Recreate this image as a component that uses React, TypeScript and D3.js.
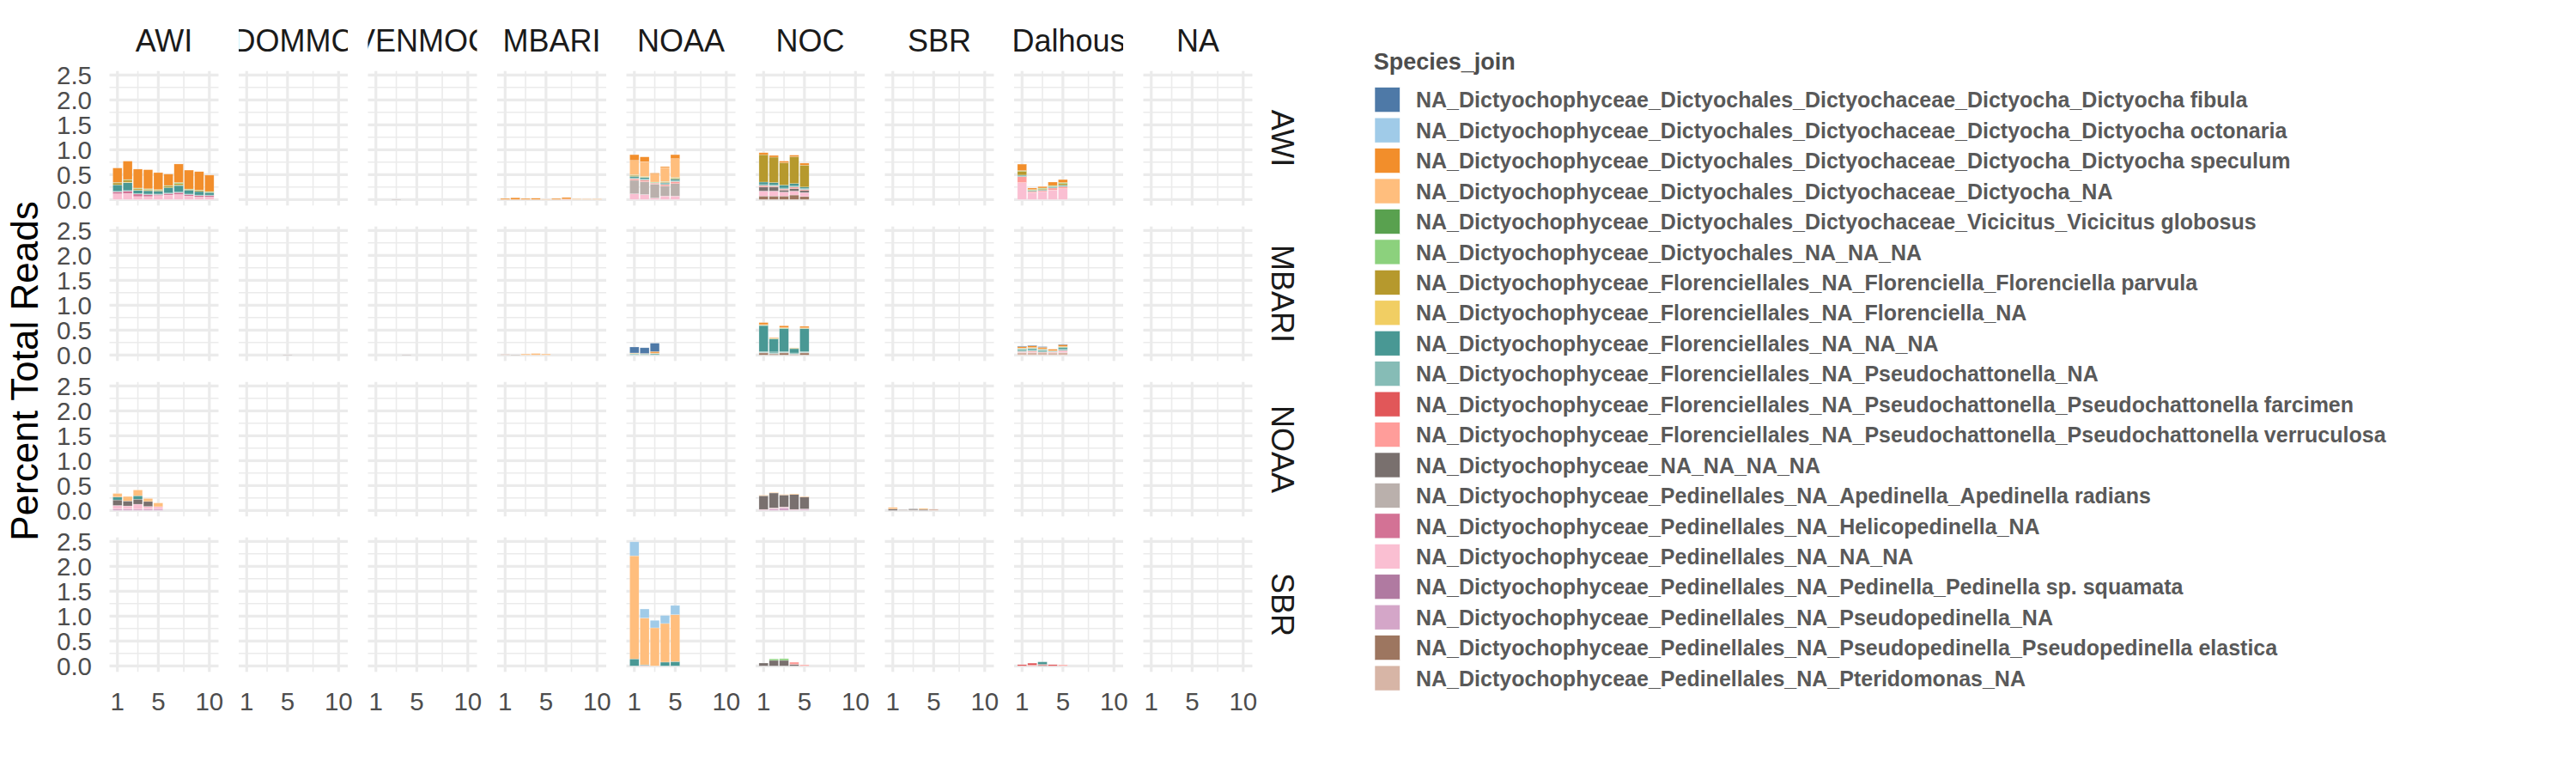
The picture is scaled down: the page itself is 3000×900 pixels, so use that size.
import React from 'react';
import * as d3 from 'd3';

// legend order (1-based index used in the bar arrays below)
const speciesNames = [
  'NA_Dictyochophyceae_Dictyochales_Dictyochaceae_Dictyocha_Dictyocha fibula',
  'NA_Dictyochophyceae_Dictyochales_Dictyochaceae_Dictyocha_Dictyocha octonaria',
  'NA_Dictyochophyceae_Dictyochales_Dictyochaceae_Dictyocha_Dictyocha speculum',
  'NA_Dictyochophyceae_Dictyochales_Dictyochaceae_Dictyocha_NA',
  'NA_Dictyochophyceae_Dictyochales_Dictyochaceae_Vicicitus_Vicicitus globosus',
  'NA_Dictyochophyceae_Dictyochales_NA_NA_NA',
  'NA_Dictyochophyceae_Florenciellales_NA_Florenciella_Florenciella parvula',
  'NA_Dictyochophyceae_Florenciellales_NA_Florenciella_NA',
  'NA_Dictyochophyceae_Florenciellales_NA_NA_NA',
  'NA_Dictyochophyceae_Florenciellales_NA_Pseudochattonella_NA',
  'NA_Dictyochophyceae_Florenciellales_NA_Pseudochattonella_Pseudochattonella farcimen',
  'NA_Dictyochophyceae_Florenciellales_NA_Pseudochattonella_Pseudochattonella verruculosa',
  'NA_Dictyochophyceae_NA_NA_NA_NA',
  'NA_Dictyochophyceae_Pedinellales_NA_Apedinella_Apedinella radians',
  'NA_Dictyochophyceae_Pedinellales_NA_Helicopedinella_NA',
  'NA_Dictyochophyceae_Pedinellales_NA_NA_NA',
  'NA_Dictyochophyceae_Pedinellales_NA_Pedinella_Pedinella sp. squamata',
  'NA_Dictyochophyceae_Pedinellales_NA_Pseudopedinella_NA',
  'NA_Dictyochophyceae_Pedinellales_NA_Pseudopedinella_Pseudopedinella elastica',
  'NA_Dictyochophyceae_Pedinellales_NA_Pteridomonas_NA',
];

const speciesColors = [
  '#4E79A7', '#A0CBE8', '#F28E2B', '#FFBE7D', '#59A14F',
  '#8CD17D', '#B6992D', '#F1CE63', '#499894', '#86BCB6',
  '#E15759', '#FF9D9A', '#79706E', '#BAB0AC', '#D37295',
  '#FABFD2', '#B07AA1', '#D4A6C8', '#9D7660', '#D7B5A6',
];

const colSites = ['AWI', 'DOMMC', 'VENMOC', 'MBARI', 'NOAA', 'NOC', 'SBR', 'Dalhous', 'NA'];
const rowSites = ['AWI', 'MBARI', 'NOAA', 'SBR'];

const xTicks = [1, 5, 10];
const xMinor = [3, 7.5];
const yTicks = [0, 0.5, 1, 1.5, 2, 2.5];
const yMinor = [0.25, 0.75, 1.25, 1.75, 2.25];

type Seg = [number, number]; // [species, percent]

// ---- row AWI ----
const awiAWI: Seg[][] = [
  [[16, .115], [15, .04], [9, .13], [10, .01], [6, .007], [7, .04], [3, .29]],
  [[16, .12], [15, .05], [9, .16], [10, .01], [6, .01], [7, .04], [8, .01], [3, .37]],
  [[16, .06], [15, .05], [9, .07], [10, .01], [6, .01], [7, .025], [8, .005], [3, .38]],
  [[16, .06], [15, .04], [9, .07], [10, .01], [6, .01], [7, .02], [8, .005], [3, .383]],
  [[16, .08], [15, .02], [9, .06], [10, .01], [6, .01], [7, .02], [3, .34]],
  [[16, .09], [15, .03], [9, .11], [10, .01], [6, .01], [7, .03], [3, .23]],
  [[16, .10], [15, .04], [9, .13], [10, .01], [6, .02], [7, .03], [8, .01], [3, .373]],
  [[16, .07], [15, .03], [9, .08], [10, .01], [6, .01], [7, .01], [3, .38]],
  [[16, .05], [15, .03], [9, .07], [10, .01], [6, .01], [7, .02], [3, .37]],
  [[16, .05], [15, .03], [9, .05], [10, .01], [6, .01], [7, .01], [3, .33]],
];
const awiVENMOC: Seg[][] = [[], [], [[14, .006]]];
const awiMBARI: Seg[][] = [
  [[3, .02]], [[3, .035]], [[3, .02]], [[3, .025]], [[4, .008]],
  [[3, .02]], [[12, .01], [3, .03]], [[4, .015]], [[4, .012]], [[4, .012]],
];
const awiNOAA: Seg[][] = [
  [[16, .115], [14, .27], [12, .03], [9, .03], [10, .02], [6, .01], [7, .02], [4, .29], [3, .115]],
  [[16, .10], [14, .26], [12, .03], [9, .03], [10, .02], [6, .01], [7, .01], [4, .30], [3, .095]],
  [[16, .03], [14, .28], [12, .02], [10, .01], [6, .01], [4, .16], [3, .02]],
  [[16, .07], [14, .20], [12, .03], [9, .02], [10, .02], [6, .01], [7, .01], [4, .28], [3, .02]],
  [[16, .07], [14, .25], [12, .04], [9, .03], [10, .02], [6, .01], [7, .02], [4, .38], [3, .08]],
];
const awiNOC: Seg[][] = [
  [[19, .07], [16, .10], [13, .08], [12, .03], [9, .05], [10, .02], [7, .55], [3, .04]],
  [[19, .07], [16, .10], [13, .08], [12, .02], [9, .05], [10, .02], [7, .51], [3, .035]],
  [[19, .07], [16, .08], [13, .04], [12, .02], [9, .06], [10, .02], [7, .45], [3, .03]],
  [[19, .09], [16, .08], [13, .05], [12, .03], [9, .05], [10, .02], [7, .54], [3, .03]],
  [[19, .06], [16, .08], [13, .04], [12, .02], [9, .03], [10, .02], [7, .44], [3, .04]],
];
const awiDalhous: Seg[][] = [
  [[16, .34], [12, .12], [10, .03], [6, .01], [7, .08], [3, .13]],
  [[16, .14], [12, .02], [10, .02], [6, .01], [7, .01], [3, .03]],
  [[16, .16], [12, .02], [10, .02], [6, .01], [7, .02], [3, .03]],
  [[16, .19], [12, .04], [10, .03], [6, .01], [7, .01], [3, .07]],
  [[16, .22], [12, .04], [10, .03], [6, .02], [7, .03], [3, .06]],
];

// ---- row MBARI ----
const mbariDOMMC: Seg[][] = [[], [], [], [], [[14, .006]]];
const mbariVENMOC: Seg[][] = [[], [], [], [[14, .006]]];
const mbariMBARI: Seg[][] = [
  [[20, .012]], [[14, .005]], [[4, .02]], [[4, .03]], [[4, .02]],
];
const mbariNOAA: Seg[][] = [
  [[10, .02], [6, .01], [4, .01], [1, .12]],
  [[10, .02], [4, .01], [1, .115]],
  [[10, .03], [4, .01], [3, .03], [1, .166]],
];
const mbariNOC: Seg[][] = [
  [[19, .04], [14, .01], [10, .02], [9, .52], [6, .01], [4, .01], [3, .04]],
  [[19, .02], [14, .01], [10, .03], [9, .26], [6, .01], [4, .01], [3, .01]],
  [[19, .04], [14, .01], [10, .02], [9, .46], [6, .01], [4, .01], [3, .036]],
  [[19, .01], [14, .01], [10, .02], [9, .09], [6, .004], [4, .01]],
  [[19, .04], [14, .01], [10, .02], [9, .46], [6, .01], [4, .005], [3, .03]],
];
const mbariDalhous: Seg[][] = [
  [[20, .05], [16, .01], [12, .01], [10, .03], [9, .02], [6, .01], [4, .01], [3, .03], [1, .008]],
  [[20, .05], [16, .01], [12, .02], [10, .03], [9, .02], [6, .01], [4, .01], [3, .035], [1, .01]],
  [[20, .045], [12, .01], [10, .03], [9, .02], [6, .01], [4, .01], [3, .03], [1, .012]],
  [[20, .04], [16, .01], [12, .01], [10, .01], [9, .01], [4, .01], [3, .025]],
  [[20, .05], [16, .03], [12, .01], [10, .03], [9, .03], [6, .01], [4, .01], [3, .04], [1, .003]],
];

// ---- row NOAA ----
const noaaAWI: Seg[][] = [
  [[18, .03], [16, .07], [13, .11], [9, .06], [4, .07]],
  [[18, .03], [16, .06], [13, .10], [4, .09]],
  [[18, .025], [16, .10], [13, .10], [9, .07], [4, .115]],
  [[18, .03], [16, .05], [13, .10], [4, .06]],
  [[18, .025], [16, .05], [4, .075]],
];
const noaaNOC: Seg[][] = [
  [[18, .01], [16, .01], [13, .275], [4, .01]],
  [[18, .03], [16, .02], [13, .30], [4, .01]],
  [[18, .05], [16, .02], [13, .24], [4, .01]],
  [[18, .01], [16, .01], [13, .30], [4, .013]],
  [[18, .02], [16, .01], [13, .24], [4, .01]],
];
const noaaSBR: Seg[][] = [
  [[13, .03], [4, .03]],
  [[14, .015]],
  [[14, .01], [13, .02]],
  [[13, .02], [4, .02]],
  [[20, .025]],
];

// ---- row SBR ----
const sbrNOAA: Seg[][] = [
  [[9, .14], [4, 2.07], [2, .28]],
  [[12, .012], [9, .01], [4, .94], [2, .18]],
  [[4, .764], [2, .15]],
  [[9, .075], [4, .776], [2, .16]],
  [[9, .086], [4, .943], [2, .184]],
];
const sbrNOC: Seg[][] = [
  [[13, .057]],
  [[13, .11], [6, .03]],
  [[13, .11], [6, .035]],
  [[13, .03], [12, .045]],
  [[12, .02]],
];
const sbrDalhous: Seg[][] = [
  [[11, .025]],
  [[12, .015], [11, .04]],
  [[13, .01], [11, .02], [9, .05]],
  [[11, .025]],
  [[12, .02]],
];

const panels = [
  { row: 'AWI', col: 'AWI', bars: awiAWI },
  { row: 'AWI', col: 'VENMOC', bars: awiVENMOC },
  { row: 'AWI', col: 'MBARI', bars: awiMBARI },
  { row: 'AWI', col: 'NOAA', bars: awiNOAA },
  { row: 'AWI', col: 'NOC', bars: awiNOC },
  { row: 'AWI', col: 'Dalhous', bars: awiDalhous },
  { row: 'MBARI', col: 'DOMMC', bars: mbariDOMMC },
  { row: 'MBARI', col: 'VENMOC', bars: mbariVENMOC },
  { row: 'MBARI', col: 'MBARI', bars: mbariMBARI },
  { row: 'MBARI', col: 'NOAA', bars: mbariNOAA },
  { row: 'MBARI', col: 'NOC', bars: mbariNOC },
  { row: 'MBARI', col: 'Dalhous', bars: mbariDalhous },
  { row: 'NOAA', col: 'AWI', bars: noaaAWI },
  { row: 'NOAA', col: 'NOC', bars: noaaNOC },
  { row: 'NOAA', col: 'SBR', bars: noaaSBR },
  { row: 'SBR', col: 'NOAA', bars: sbrNOAA },
  { row: 'SBR', col: 'NOC', bars: sbrNOC },
  { row: 'SBR', col: 'Dalhous', bars: sbrDalhous },
];

const FONT = '"Liberation Sans", Arial, Helvetica, sans-serif';

export default function App() {
  const width = 3000, height = 900;
  const left0 = 127.5, top0 = 82.7;
  const pw = 127, ph = 156.6, stepX = 150.5, stepY = 181;

  const x = d3.scaleLinear().domain([0.22, 10.9]).range([0, pw]);
  const y = d3.scaleLinear().domain([-0.121, 2.579]).range([ph, 0]);
  const barW = 0.9;

  // first key at the bottom of each stack -> last legend entry at bottom
  const keys = d3.range(20, 0, -1).map(String);
  const stacker = d3.stack<any>().keys(keys);

  const grid = (c: number, r: number) => {
    const px = left0 + c * stepX, py = top0 + r * stepY;
    return (
      <g key={`g${c}-${r}`} transform={`translate(${px},${py})`}>
        {yMinor.map(v => <line key={'ym' + v} x1={0} x2={pw} y1={y(v)} y2={y(v)} stroke="#EBEBEB" strokeWidth={1.6} />)}
        {xMinor.map(v => <line key={'xm' + v} y1={0} y2={ph} x1={x(v)} x2={x(v)} stroke="#EBEBEB" strokeWidth={1.6} />)}
        {yTicks.map(v => <line key={'y' + v} x1={0} x2={pw} y1={y(v)} y2={y(v)} stroke="#EBEBEB" strokeWidth={3.2} />)}
        {xTicks.map(v => <line key={'x' + v} y1={0} y2={ph} x1={x(v)} x2={x(v)} stroke="#EBEBEB" strokeWidth={3.2} />)}
      </g>
    );
  };

  const bars = panels.map((p, pi) => {
    const c = colSites.indexOf(p.col), r = rowSites.indexOf(p.row);
    const rows = p.bars.map((segs, i) => {
      const o: any = { x: i + 1 };
      keys.forEach(k => (o[k] = 0));
      segs.forEach(([s, v]) => (o[String(s)] = v));
      return o;
    });
    const series = stacker(rows);
    return (
      <g key={'p' + pi} transform={`translate(${left0 + c * stepX},${top0 + r * stepY})`}>
        {series.map(s =>
          s.map((d, i) =>
            d[1] - d[0] > 0 ? (
              <rect
                key={s.key + '-' + i}
                x={x(d.data.x - barW / 2)}
                width={x(d.data.x + barW / 2) - x(d.data.x - barW / 2)}
                y={y(d[1])}
                height={Math.max(0.6, y(d[0]) - y(d[1]))}
                fill={speciesColors[+s.key - 1]}
                stroke="#ffffff"
                strokeOpacity={0.45}
                strokeWidth={0.5}
              />
            ) : null
          )
        )}
      </g>
    );
  });

  const legendX = 1601, legendY0 = 101.7, legendStep = 35.44, keySize = 29.4;

  return (
    <svg width={width} height={height} style={{ position: 'absolute', left: 0, top: 0 }} fontFamily={FONT}>
      <rect width={width} height={height} fill="#ffffff" />
      <defs>
        {colSites.map((s, c) => (
          <clipPath key={s} id={'strip' + c}>
            <rect x={left0 + c * stepX} y={10} width={pw} height={70} />
          </clipPath>
        ))}
      </defs>

      {rowSites.map((_, r) => colSites.map((__, c) => grid(c, r)))}
      {bars}

      {/* column strips */}
      {colSites.map((s, c) => (
        <text key={'cs' + s} clipPath={`url(#strip${c})`} x={left0 + c * stepX + pw / 2} y={60}
          textAnchor="middle" fontSize={36} fill="#1A1A1A">{s}</text>
      ))}

      {/* row strips */}
      {rowSites.map((s, r) => {
        const cx = 1493, cy = top0 + r * stepY + ph / 2;
        return (
          <text key={'rs' + s} transform={`translate(${cx},${cy}) rotate(90)`} textAnchor="middle"
            dominantBaseline="central" fontSize={36} fill="#1A1A1A">{s}</text>
        );
      })}

      {/* y axis labels (first column) */}
      {rowSites.map((s, r) =>
        yTicks.map(v => (
          <text key={'yl' + s + v} x={107} y={top0 + r * stepY + y(v)} textAnchor="end"
            dominantBaseline="central" fontSize={29.5} fill="#4D4D4D">{v.toFixed(1)}</text>
        ))
      )}

      {/* x axis labels (bottom row) */}
      {colSites.map((s, c) =>
        xTicks.map(v => (
          <text key={'xl' + s + v} x={left0 + c * stepX + x(v)} y={826.5} textAnchor="middle"
            fontSize={29.5} fill="#4D4D4D">{v}</text>
        ))
      )}

      <text transform={`translate(44,432) rotate(-90)`} textAnchor="middle" fontSize={44} fill="#000000">
        Percent Total Reads
      </text>

      {/* legend */}
      <text x={1599.7} y={71.7} dominantBaseline="central" fontSize={27} fontWeight="bold" fill="#4D4D4D">Species_join</text>
      {speciesNames.map((n, i) => (
        <g key={'lg' + i}>
          <rect x={legendX} y={legendY0 + i * legendStep} width={keySize} height={keySize - 0.4}
            fill={speciesColors[i]} stroke="#ffffff" strokeWidth={0.6} />
          <text x={1649} y={legendY0 + i * legendStep + keySize / 2} dominantBaseline="central"
            fontSize={25} fontWeight="bold" fill="#595959">{n}</text>
        </g>
      ))}
    </svg>
  );
}
